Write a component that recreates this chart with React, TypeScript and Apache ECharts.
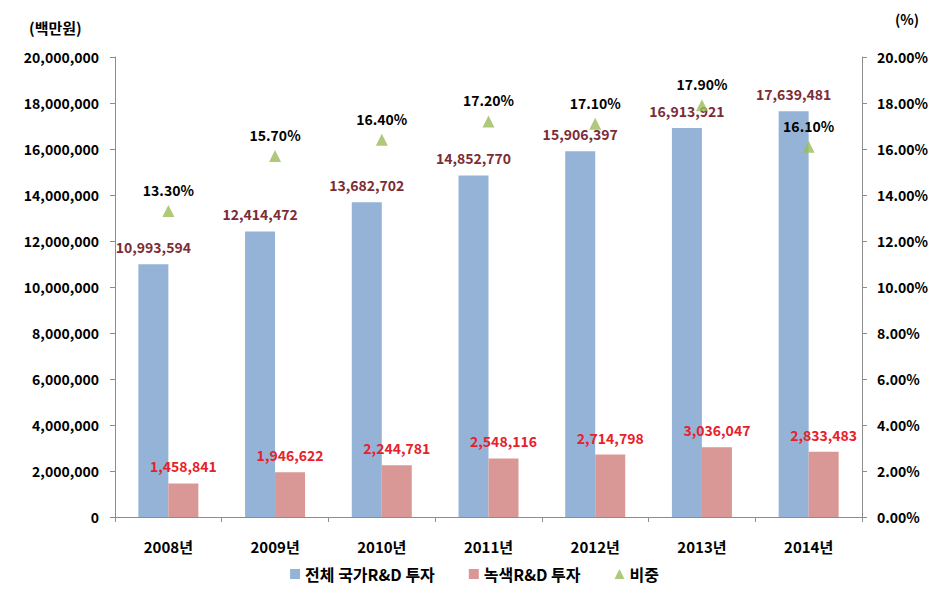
import React, { useEffect, useRef } from "react";
import * as echarts from "echarts";

const categories = ["2008년", "2009년", "2010년", "2011년", "2012년", "2013년", "2014년"];
const totalRD = [10993594, 12414472, 13682702, 14852770, 15906397, 16913921, 17639481];
const greenRD = [1458841, 1946622, 2244781, 2548116, 2714798, 3036047, 2833483];
const share = [13.3, 15.7, 16.4, 17.2, 17.1, 17.9, 16.1];
const seriesNames = ["전체 국가R&D 투자", "녹색R&D 투자", "비중"];

const FONT = "'Noto Sans CJK KR', 'Noto Sans', sans-serif";
const fmt = (v: number) => v.toLocaleString("en-US");

export default function App() {
  const ref = useRef<HTMLDivElement>(null);
  useEffect(() => {
    if (!ref.current) return;
    const chart = echarts.init(ref.current, null, { renderer: "svg" });
    chart.setOption({
      animation: false,
      backgroundColor: "#fff",
      textStyle: { fontFamily: FONT },
      grid: { left: 115, right: 87, top: 57, bottom: 77 },
      legend: {
        bottom: 7,
        left: "center",
        itemWidth: 10,
        itemHeight: 10,
        itemGap: 34,
        textStyle: { fontFamily: FONT, fontSize: 16, fontWeight: "bold", color: "#000" },
        data: [
          { name: seriesNames[0], icon: "rect" },
          { name: seriesNames[1], icon: "rect" },
          { name: seriesNames[2], icon: "triangle" },
        ],
      },
      graphic: [
        { type: "text", left: 29, top: 20, style: { text: "(백만원)", font: `bold 15px ${FONT}`, fill: "#000" } },
        { type: "text", left: 895, top: 12, style: { text: "(%)", font: `bold 14px ${FONT}`, fill: "#000" } },
      ],
      xAxis: {
        type: "category",
        data: categories,
        axisLine: { lineStyle: { color: "#8c8c8c" } },
        axisTick: { show: true, lineStyle: { color: "#8c8c8c" } },
        axisLabel: { fontFamily: FONT, fontSize: 15, fontWeight: "bold", color: "#000", margin: 22 },
      },
      yAxis: [
        {
          type: "value",
          min: 0,
          max: 20000000,
          interval: 2000000,
          splitLine: { show: false },
          axisLine: { show: true, lineStyle: { color: "#8c8c8c" } },
          axisTick: { show: true, lineStyle: { color: "#8c8c8c" } },
          axisLabel: { fontFamily: FONT, fontSize: 14, fontWeight: "bold", color: "#000", margin: 16, formatter: (v: number) => fmt(v) },
        },
        {
          type: "value",
          min: 0,
          max: 20,
          interval: 2,
          splitLine: { show: false },
          axisLine: { show: true, lineStyle: { color: "#8c8c8c" } },
          axisTick: { show: true, lineStyle: { color: "#8c8c8c" } },
          axisLabel: { fontFamily: FONT, fontSize: 14, fontWeight: "bold", color: "#000", margin: 15, formatter: (v: number) => v.toFixed(2) + "%" },
        },
      ],
      series: [
        {
          name: seriesNames[0],
          type: "bar",
          data: totalRD,
          barWidth: 30,
          barGap: "0%",
          itemStyle: { color: "#95b3d7" },
          label: {
            show: true,
            position: "top",
            distance: 10,
            fontFamily: FONT,
            fontSize: 14,
            fontWeight: "bold",
            color: "#7b2c35",
            formatter: (p: any) => fmt(p.value),
          },
        },
        {
          name: seriesNames[1],
          type: "bar",
          data: greenRD,
          barWidth: 30,
          barGap: "0%",
          itemStyle: { color: "#d99795" },
          label: {
            show: true,
            position: "top",
            distance: 10,
            fontFamily: FONT,
            fontSize: 14,
            fontWeight: "bold",
            color: "#e8202a",
            formatter: (p: any) => fmt(p.value),
          },
        },
        {
          name: seriesNames[2],
          type: "scatter",
          yAxisIndex: 1,
          data: share,
          symbol: "triangle",
          symbolSize: 12,
          itemStyle: { color: "#9bbb59" },
          label: {
            show: true,
            position: "top",
            distance: 8,
            fontFamily: FONT,
            fontSize: 14,
            fontWeight: "bold",
            color: "#000",
            opacity: 1,
            formatter: (p: any) => p.value.toFixed(2) + "%",
          },
        },
      ],
    });
    return () => chart.dispose();
  }, []);
  return <div ref={ref} style={{ position: "absolute", left: 0, top: 0, width: 949, height: 594 }} />;
}
